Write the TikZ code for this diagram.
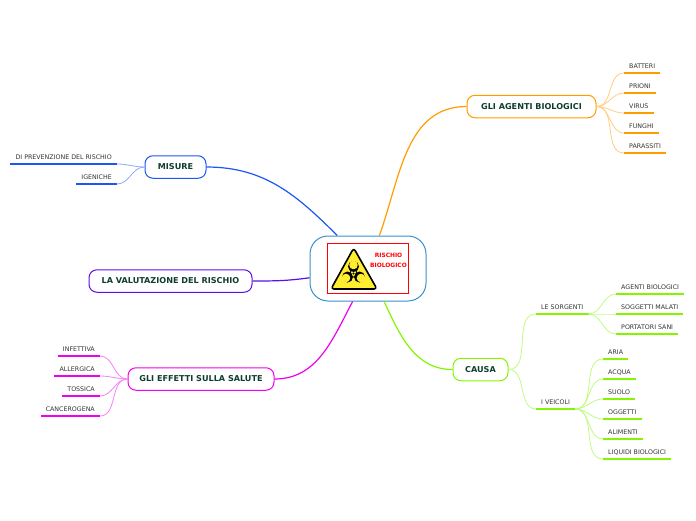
\documentclass[tikz,border=0pt]{standalone}
\usepackage{fontspec}
\setmainfont{DejaVu Sans}
\definecolor{orangeb}{HTML}{FF9C00}
\definecolor{greenb}{HTML}{84F500}
\definecolor{blueb}{HTML}{1C57F5}
\definecolor{magentab}{HTML}{F000F0}
\definecolor{purpleb}{HTML}{5A10E8}
\definecolor{centerb}{HTML}{3A8FCB}
\definecolor{titlecol}{HTML}{0F3D2E}
\definecolor{leafcol}{HTML}{333333}
\definecolor{signcol}{HTML}{FFEE30}
\definecolor{logored}{HTML}{FF0000}
\tikzset{
  topic/.style={draw=#1, line width=1pt, rounded corners=8pt, fill=white, inner sep=0pt,
    minimum height=22.5pt, font=\fontsize{8.1}{9}\selectfont\bfseries, text=titlecol},
  leaf/.style={inner xsep=5pt, inner ysep=4.5pt, text depth=0pt, text=leafcol,
    font=\fontsize{6.3}{7}\selectfont,
    append after command={(\tikzlastnode.south west) edge[draw=#1, line width=1.5pt] (\tikzlastnode.south east)}},
  branch/.style={draw=#1, line width=1.2pt},
  twig/.style={draw=#1!50, line width=.8pt, out=0, in=180},
  twigl/.style={draw=#1!50, line width=.8pt, out=180, in=0}
}
\begin{document}
\begin{tikzpicture}[x=1pt, y=-1pt]
  \useasboundingbox (0,0) rectangle (696,520);

  % Central topic
  \node[draw=centerb, line width=1pt, rounded corners=18pt, minimum width=116pt, minimum height=65pt, inner sep=0pt] (rischio) at (368,268.5) {};
  \node[draw=logored, line width=.9pt, minimum width=81.5pt, minimum height=50.5pt, inner sep=0pt] (logo) at (368,268.5) {};
  \node[text=logored, font=\fontsize{5.9}{10}\selectfont\bfseries, align=center, inner sep=0pt] (logotext) at (388.5,260) {RISCHIO\\BIOLOGICO};

  % Warning sign
  \draw[black, fill=signcol, line width=1.6pt, rounded corners=3pt, line join=round] (353.7,248) -- (377,289) -- (331,289) -- cycle;
  \fill[black] (353.5,266.5) circle (5.5pt);
  \fill[black] (347.5,277) circle (5.5pt);
  \fill[black] (359.5,277) circle (5.5pt);
  \fill[signcol] (353.5,265) circle (4.3pt);
  \fill[signcol] (346,278) circle (4.3pt);
  \fill[signcol] (361,278) circle (4.3pt);
  \draw[black, line width=.9pt] (353.5,273.5) circle (3.6pt);
  \fill[black] (353.5,273.5) circle (1.2pt);

  % Main topics
  \node[topic=orangeb, minimum width=129pt] (agenti) at (531.5,106.5) {GLI AGENTI BIOLOGICI};
  \node[topic=greenb, minimum width=55pt] (causa) at (480.5,369.5) {CAUSA};
  \node[topic=blueb, minimum width=61pt] (misure) at (175.5,167) {MISURE};
  \node[topic=purpleb, minimum width=163pt] (valutazione) at (170.5,281) {LA VALUTAZIONE DEL RISCHIO};
  \node[topic=magentab, minimum width=146pt] (effetti) at (201,379) {GLI EFFETTI SULLA SALUTE};

  % Branches to the centre
  \draw[branch=orangeb] (agenti.west) to[out=180, in=70] (rischio.71);
  \draw[branch=greenb] (causa.west) to[out=180, in=-65] (rischio.296);
  \draw[branch=blueb] (misure.east) to[out=0, in=135] (rischio.133);
  \draw[branch=purpleb] (valutazione.east) to[out=0, in=188] (rischio.189);
  \draw[branch=magentab] (effetti.east) to[out=0, in=-118] (rischio.245);

  % Agents
  \node[leaf=orangeb, anchor=south west] (batteri) at (624,73) {BATTERI};
  \node[leaf=orangeb, anchor=south west] (prioni) at (624,93) {PRIONI};
  \node[leaf=orangeb, anchor=south west] (virus) at (624,113) {VIRUS};
  \node[leaf=orangeb, anchor=south west] (funghi) at (624,133) {FUNGHI};
  \node[leaf=orangeb, anchor=south west] (parassiti) at (624,153) {PARASSITI};
  \draw[twig=orangeb] (agenti.east) to (batteri.south west);
  \draw[twig=orangeb] (agenti.east) to (prioni.south west);
  \draw[twig=orangeb] (agenti.east) to (virus.south west);
  \draw[twig=orangeb] (agenti.east) to (funghi.south west);
  \draw[twig=orangeb] (agenti.east) to (parassiti.south west);

  % Causes
  \node[leaf=greenb, anchor=south west] (sorgenti) at (536,314) {LE SORGENTI};
  \node[leaf=greenb, anchor=south west] (veicoli) at (536,409) {I VEICOLI};
  \draw[twig=greenb] (causa.east) to (sorgenti.south west);
  \draw[twig=greenb] (causa.east) to (veicoli.south west);

  \node[leaf=greenb, anchor=south west] (biologici) at (616,294) {AGENTI BIOLOGICI};
  \node[leaf=greenb, anchor=south west] (malati) at (616,314) {SOGGETTI MALATI};
  \node[leaf=greenb, anchor=south west] (portatori) at (616,334) {PORTATORI SANI};
  \draw[twig=greenb] (sorgenti.south east) to (biologici.south west);
  \draw[twig=greenb] (sorgenti.south east) to (malati.south west);
  \draw[twig=greenb] (sorgenti.south east) to (portatori.south west);

  \node[leaf=greenb, anchor=south west] (aria) at (603,359) {ARIA};
  \node[leaf=greenb, anchor=south west] (acqua) at (603,379) {ACQUA};
  \node[leaf=greenb, anchor=south west] (suolo) at (603,399) {SUOLO};
  \node[leaf=greenb, anchor=south west] (oggetti) at (603,419) {OGGETTI};
  \node[leaf=greenb, anchor=south west] (alimenti) at (603,439) {ALIMENTI};
  \node[leaf=greenb, anchor=south west] (liquidi) at (603,459) {LIQUIDI BIOLOGICI};
  \draw[twig=greenb] (veicoli.south east) to (aria.south west);
  \draw[twig=greenb] (veicoli.south east) to (acqua.south west);
  \draw[twig=greenb] (veicoli.south east) to (suolo.south west);
  \draw[twig=greenb] (veicoli.south east) to (oggetti.south west);
  \draw[twig=greenb] (veicoli.south east) to (alimenti.south west);
  \draw[twig=greenb] (veicoli.south east) to (liquidi.south west);

  % Measures
  \node[leaf=blueb, anchor=south east] (prevenzione) at (117,164) {DI PREVENZIONE DEL RISCHIO};
  \node[leaf=blueb, anchor=south east] (igieniche) at (117,184) {IGENICHE};
  \draw[twigl=blueb] (misure.west) to (prevenzione.south east);
  \draw[twigl=blueb] (misure.west) to (igieniche.south east);

  % Effects
  \node[leaf=magentab, anchor=south east] (infettiva) at (100,356) {INFETTIVA};
  \node[leaf=magentab, anchor=south east] (allergica) at (100,376) {ALLERGICA};
  \node[leaf=magentab, anchor=south east] (tossica) at (100,396) {TOSSICA};
  \node[leaf=magentab, anchor=south east] (cancerogena) at (100,416) {CANCEROGENA};
  \draw[twigl=magentab] (effetti.west) to (infettiva.south east);
  \draw[twigl=magentab] (effetti.west) to (allergica.south east);
  \draw[twigl=magentab] (effetti.west) to (tossica.south east);
  \draw[twigl=magentab] (effetti.west) to (cancerogena.south east);

\end{tikzpicture}
\end{document}
